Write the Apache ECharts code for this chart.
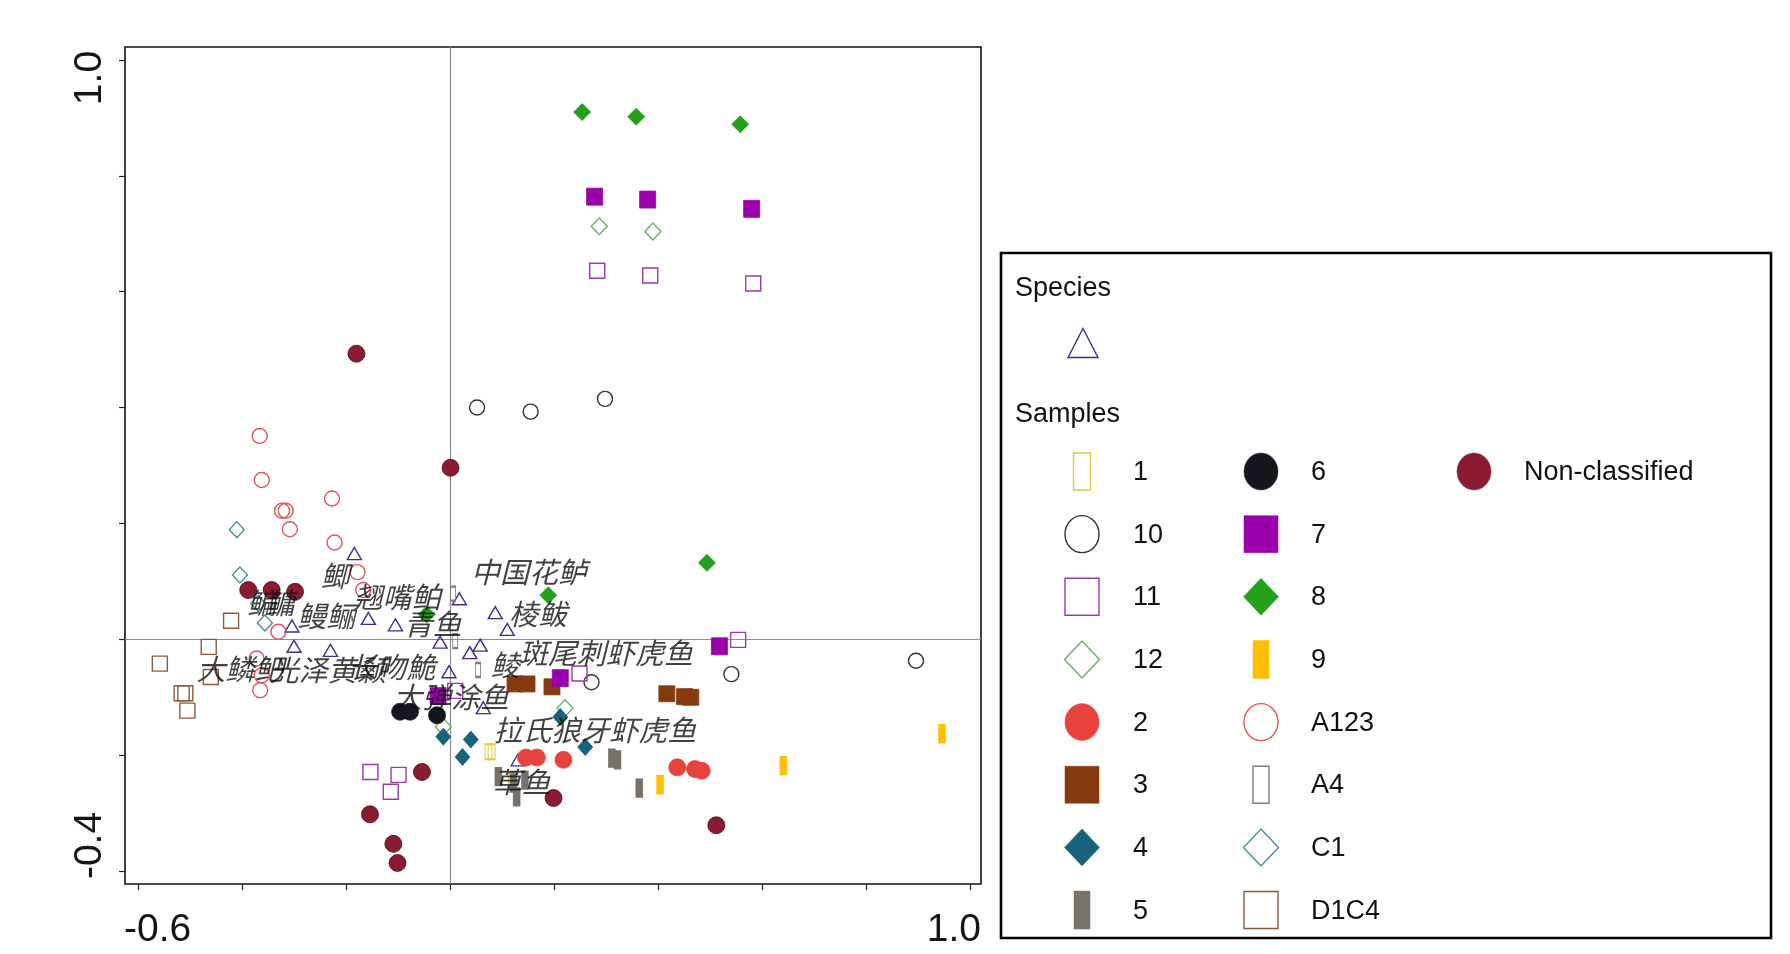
<!DOCTYPE html>
<html>
<head>
<meta charset="utf-8">
<script src="https://cdn.jsdelivr.net/npm/echarts@6/dist/echarts.min.js"></script>
<style>
  html, body { margin: 0; padding: 0; background: #ffffff; }
  #main { width: 1790px; height: 954px; }
</style>
</head>
<body>
<div id="main"></div>
<script>
// ---- axis ticks and end labels ----
const xTicks = [-0.6, -0.4, -0.2, 0, 0.2, 0.4, 0.6, 0.8, 1.0];
const yTicks = [-0.4, -0.2, 0, 0.2, 0.4, 0.6, 0.8, 1.0];
const xEndLabels = ['-0.6', '1.0'];
const yEndLabels = ['-0.4', '1.0'];

// ---- species scores (triangles) ----
const speciesPoints = [
  [-0.184, 0.148], [-0.304, 0.023], [-0.157, 0.036], [-0.105, 0.025],
  [-0.300, -0.012], [-0.230, -0.019], [0.018, 0.070], [0.087, 0.046],
  [0.110, 0.017], [-0.019, -0.005], [0.038, -0.023], [0.058, -0.010],
  [-0.002, -0.056], [0.064, -0.118], [0.131, -0.208]
];

// ---- species names and where each name is written ----
const speciesNames = [
  '中国花鲈', '棱鲅', '斑尾刺虾虎鱼', '鲮', '拉氏狼牙虾虎鱼', '草鱼', '大弹涂鱼',
  '长吻鮠', '光泽黄颡', '大鳞鲃', '鳗鲡', '翘嘴鲌', '鲫', '青鱼', '鳊', '鳙'
];
const speciesLabelPos = [
  [0.152, 0.116], [0.169, 0.044], [0.300, -0.024], [0.106, -0.044],
  [0.279, -0.156], [0.138, -0.246], [0.002, -0.099], [-0.112, -0.048],
  [-0.235, -0.053], [-0.404, -0.051], [-0.238, 0.040], [-0.102, 0.073],
  [-0.221, 0.109], [-0.033, 0.026], [-0.362, 0.062], [-0.327, 0.062]
];

// ---- sample scores by group ----
const g1 = [[0.074, -0.194], [0.080, -0.194], [0.119, -0.243]];
const g10 = [[0.052, 0.400], [0.155, 0.393], [0.298, 0.415], [0.272, -0.074], [0.541, -0.060], [0.896, -0.037]];
const g11 = [[0.283, 0.636], [0.385, 0.628], [0.583, 0.614], [0.554, -0.001], [0.249, -0.059], [0.010, -0.089],
             [-0.153, -0.229], [-0.099, -0.234], [-0.114, -0.263]];
const g12 = [[0.287, 0.713], [0.390, 0.704], [0.221, -0.119], [-0.013, -0.151]];
const g2 = [[0.146, -0.204], [0.167, -0.204], [0.218, -0.208], [0.437, -0.221], [0.471, -0.224], [0.484, -0.227]];
const g3 = [[0.125, -0.077], [0.148, -0.077], [0.196, -0.082], [0.417, -0.094], [0.451, -0.099], [0.463, -0.100]];
const g4 = [[0.212, -0.134], [-0.013, -0.168], [0.040, -0.173], [0.024, -0.203], [0.260, -0.186]];
const g5 = [[0.093, -0.237], [0.122, -0.248], [0.144, -0.243], [0.128, -0.272], [0.311, -0.205], [0.322, -0.208], [0.364, -0.257]];
const g6 = [[-0.096, -0.125], [-0.077, -0.125], [-0.025, -0.131]];
const g7 = [[0.278, 0.764], [0.380, 0.759], [0.580, 0.743], [0.518, -0.012], [0.212, -0.067], [-0.023, -0.098]];
const g8 = [[0.254, 0.910], [0.358, 0.902], [0.558, 0.889], [0.189, 0.076], [-0.045, 0.043], [0.494, 0.132]];
const g9 = [[0.404, -0.251], [0.641, -0.218], [0.946, -0.163]];
const gA123 = [[-0.366, 0.351], [-0.362, 0.275], [-0.323, 0.222], [-0.316, 0.222], [-0.308, 0.190], [-0.227, 0.243],
               [-0.222, 0.167], [-0.178, 0.116], [-0.167, 0.085], [-0.330, 0.013], [-0.372, -0.033], [-0.362, -0.062], [-0.365, -0.088]];
const gA4 = [[0.006, 0.079], [0.010, -0.003], [0.054, -0.053]];
const gC1 = [[-0.410, 0.189], [-0.404, 0.111], [-0.369, 0.062], [-0.356, 0.028]];
const gD1C4 = [[-0.421, 0.032], [-0.464, -0.013], [-0.558, -0.042], [-0.460, -0.065], [-0.516, -0.093], [-0.509, -0.093], [-0.505, -0.123]];
const gNC = [[-0.180, 0.493], [0.001, 0.296], [-0.388, 0.085], [-0.343, 0.085], [-0.298, 0.082], [-0.054, -0.229],
             [-0.154, -0.302], [-0.109, -0.353], [-0.101, -0.386], [0.199, -0.274], [0.512, -0.321]];

// ---- legend layout (column-major) ----
const legendCol1 = ['1', '10', '11', '12', '2', '3', '4', '5'];
const legendCol2 = ['6', '7', '8', '9', 'A123', 'A4', 'C1', 'D1C4'];
const legendCol3 = ['Non-classified'];

// marker look per group: shape, fill (null = open), stroke, size in plot, size in legend
const markerStyles = {
  '1':    { data: g1,    shape: 'rect',     fill: null,      stroke: '#e9c63c', size: [7, 15],  lsize: [17, 37] },
  '10':   { data: g10,   shape: 'circle',   fill: null,      stroke: '#333333', size: [15, 15], lsize: [34, 37] },
  '11':   { data: g11,   shape: 'rect',     fill: null,      stroke: '#9a3aa8', size: [15, 15], lsize: [34, 37] },
  '12':   { data: g12,   shape: 'diamond',  fill: null,      stroke: '#6cae6c', size: [16, 17], lsize: [35, 37] },
  '2':    { data: g2,    shape: 'circle',   fill: '#e8423c', stroke: '#e8423c', size: [17, 17], lsize: [34, 37] },
  '3':    { data: g3,    shape: 'rect',     fill: '#853a10', stroke: '#853a10', size: [16, 16], lsize: [34, 37] },
  '4':    { data: g4,    shape: 'diamond',  fill: '#17647a', stroke: '#17647a', size: [15, 17], lsize: [35, 37] },
  '5':    { data: g5,    shape: 'rect',     fill: '#7a7068', stroke: '#7a7068', size: [7, 18],  lsize: [16, 38] },
  '6':    { data: g6,    shape: 'circle',   fill: '#16161f', stroke: '#16161f', size: [17, 17], lsize: [34, 37] },
  '7':    { data: g7,    shape: 'rect',     fill: '#9c00ab', stroke: '#9c00ab', size: [16, 17], lsize: [34, 37] },
  '8':    { data: g8,    shape: 'diamond',  fill: '#23a11c', stroke: '#23a11c', size: [17, 17], lsize: [35, 37] },
  '9':    { data: g9,    shape: 'rect',     fill: '#ffbf00', stroke: '#ffbf00', size: [7, 18],  lsize: [16, 38] },
  'A123': { data: gA123, shape: 'circle',   fill: null,      stroke: '#e0555a', size: [15, 15], lsize: [34, 37] },
  'A4':   { data: gA4,   shape: 'rect',     fill: null,      stroke: '#7d7d7d', size: [5, 14],  lsize: [16, 37] },
  'C1':   { data: gC1,   shape: 'diamond',  fill: null,      stroke: '#4d8c9c', size: [15, 16], lsize: [35, 37] },
  'D1C4': { data: gD1C4, shape: 'rect',     fill: null,      stroke: '#8d5a3a', size: [15, 15], lsize: [34, 37] },
  'Non-classified': { data: gNC, shape: 'circle', fill: '#8a1b30', stroke: '#4a0c18', size: [17, 17], lsize: [34, 37] }
};
const speciesStyle = { shape: 'triangle', stroke: '#39328c', size: [14, 12], lsize: [30, 29] };

const chart = echarts.init(document.getElementById('main'), null, { renderer: 'canvas' });

// draw order: species first, samples on top
const drawOrder = ['D1C4', 'A123', 'C1', 'A4', '10', '11', '12', '1', '5', '9', '2', '3', '4', '6', '7', '8', 'Non-classified'];

const series = [];
series.push({
  type: 'scatter', name: 'Species', data: speciesPoints, symbol: speciesStyle.shape,
  symbolSize: speciesStyle.size, silent: true, z: 3,
  itemStyle: { color: 'rgba(0,0,0,0)', borderColor: speciesStyle.stroke, borderWidth: 1.4, opacity: 1 },
  markLine: {
    silent: true, symbol: 'none', label: { show: false }, z: 1,
    lineStyle: { color: '#8c8c8c', width: 1.2, type: 'solid', opacity: 1 },
    data: [{ xAxis: 0 }, { yAxis: 0 }]
  }
});
drawOrder.forEach((name, i) => {
  const st = markerStyles[name];
  series.push({
    type: 'scatter', name, data: st.data, symbol: st.shape, symbolSize: st.size, silent: true, z: 4 + i * 0.01,
    itemStyle: st.fill
      ? { color: st.fill, borderColor: st.stroke, borderWidth: 0.8, opacity: 1 }
      : { color: 'rgba(0,0,0,0)', borderColor: st.stroke, borderWidth: 1.4, opacity: 1 }
  });
});
series.push({
  type: 'scatter', name: 'names', silent: true, z: 8,
  data: speciesLabelPos.map((p, i) => ({ value: p, name: speciesNames[i] })),
  symbolSize: 1, itemStyle: { color: 'rgba(0,0,0,0)' },
  label: {
    show: true, position: 'inside', formatter: p => p.name,
    fontStyle: 'italic', fontSize: 29, fontWeight: 'normal',
    fontFamily: '"Noto Sans CJK SC", sans-serif', color: '#111111'
  }
});

const option = {
  animation: false,
  backgroundColor: '#ffffff',
  grid: { left: 125, top: 47, width: 856, height: 837, show: true, borderColor: '#111111', borderWidth: 1.6, backgroundColor: 'rgba(0,0,0,0)' },
  xAxis: {
    type: 'value', min: -0.625, max: 1.021,
    axisLine: { show: false, onZero: false }, splitLine: { show: false },
    axisTick: { show: true, customValues: xTicks, length: 6, inside: false, lineStyle: { color: '#222', width: 1.2 } },
    axisLabel: { show: false }
  },
  yAxis: {
    type: 'value', min: -0.4223, max: 1.0223,
    axisLine: { show: false, onZero: false }, splitLine: { show: false },
    axisTick: { show: true, customValues: yTicks, length: 6, inside: false, lineStyle: { color: '#222', width: 1.2 } },
    axisLabel: { show: false }
  },
  series
};
chart.setOption(option);

// ---- axis end labels, placed from the axis scales ----
const grid = { left: 125, top: 47, width: 856, height: 837 };
const axisFont = '39px "Liberation Sans", Arial, sans-serif';
const graphics = [];
graphics.push({
  type: 'text', x: grid.left - 1, y: grid.top + grid.height + 46, silent: true,
  style: { text: xEndLabels[0], font: axisFont, fill: '#151515', textAlign: 'left', textVerticalAlign: 'middle' }
});
graphics.push({
  type: 'text', x: grid.left + grid.width, y: grid.top + grid.height + 46, silent: true,
  style: { text: xEndLabels[1], font: axisFont, fill: '#151515', textAlign: 'right', textVerticalAlign: 'middle' }
});
const yLow = chart.convertToPixel({ yAxisIndex: 0 }, -0.4);
const yHigh = chart.convertToPixel({ yAxisIndex: 0 }, 1.0);
graphics.push({
  type: 'text', x: 90, y: yLow + 8, rotation: Math.PI / 2, silent: true,
  style: { text: yEndLabels[0], font: axisFont, fill: '#151515', textAlign: 'left', textVerticalAlign: 'middle' }
});
graphics.push({
  type: 'text', x: 90, y: yHigh - 9, rotation: Math.PI / 2, silent: true,
  style: { text: yEndLabels[1], font: axisFont, fill: '#151515', textAlign: 'right', textVerticalAlign: 'middle' }
});

// ---- legend box ----
const box = { x: 1001, y: 253, w: 770, h: 685 };
const legendFont = '27px "Liberation Sans", Arial, sans-serif';
graphics.push({ type: 'rect', silent: true, shape: { x: box.x, y: box.y, width: box.w, height: box.h },
  style: { fill: '#ffffff', stroke: '#000000', lineWidth: 2.6 }, z: 10 });
graphics.push({ type: 'text', silent: true, x: 1015, y: 289, z: 11,
  style: { text: 'Species', font: legendFont, fill: '#111', textAlign: 'left', textVerticalAlign: 'middle' } });
graphics.push({ type: 'text', silent: true, x: 1015, y: 415, z: 11,
  style: { text: 'Samples', font: legendFont, fill: '#111', textAlign: 'left', textVerticalAlign: 'middle' } });

function legendSymbol(shape, fill, stroke, w, h, cx, cy) {
  const style = fill ? { fill, stroke: fill, lineWidth: 0.5 } : { fill: 'none', stroke, lineWidth: 1.4 };
  if (shape === 'circle') return { type: 'ellipse', silent: true, z: 11, shape: { cx, cy, rx: w / 2, ry: h / 2 }, style };
  if (shape === 'rect') return { type: 'rect', silent: true, z: 11, shape: { x: cx - w / 2, y: cy - h / 2, width: w, height: h }, style };
  if (shape === 'diamond') return { type: 'polygon', silent: true, z: 11,
    shape: { points: [[cx, cy - h / 2], [cx + w / 2, cy], [cx, cy + h / 2], [cx - w / 2, cy]] }, style };
  return { type: 'polygon', silent: true, z: 11,
    shape: { points: [[cx, cy - h / 2], [cx + w / 2, cy + h / 2], [cx - w / 2, cy + h / 2]] }, style };
}
graphics.push(legendSymbol('triangle', null, speciesStyle.stroke, speciesStyle.lsize[0], speciesStyle.lsize[1], 1083, 343));

const colSymX = [1082, 1261, 1474];
const colTextX = [1133, 1311, 1524];
const rowY0 = 471.5, rowGap = 62.65;
[legendCol1, legendCol2, legendCol3].forEach((col, c) => {
  col.forEach((name, r) => {
    const st = markerStyles[name];
    const cy = rowY0 + r * rowGap;
    graphics.push(legendSymbol(st.shape, st.fill, st.stroke, st.lsize[0], st.lsize[1], colSymX[c], cy));
    graphics.push({ type: 'text', silent: true, x: colTextX[c], y: cy + 1, z: 11,
      style: { text: name, font: legendFont, fill: '#111', textAlign: 'left', textVerticalAlign: 'middle' } });
  });
});

chart.setOption({ graphic: { elements: graphics } });
</script>
</body>
</html>
